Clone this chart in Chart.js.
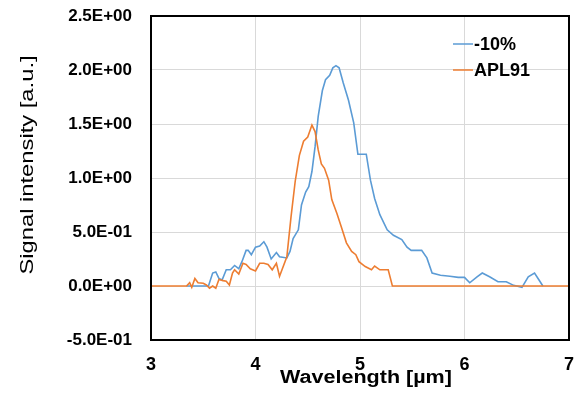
<!DOCTYPE html>
<html>
<head>
<meta charset="utf-8">
<script src="https://cdn.jsdelivr.net/npm/chart.js@4"></script>
<style>
  html, body { margin: 0; padding: 0; background: #ffffff; }
  #wrap { width: 578px; height: 396px; }
</style>
</head>
<body>
<div id="wrap"><canvas id="c" width="578" height="396"></canvas></div>
<script>
const seriesLabels = ["-10%", "APL91"];
const xTitle = "Wavelength [µm]";
const yTitle = "Signal intensity [a.u.]";
const xTickValues = [3, 4, 5, 6, 7];
const yTickValues = [-0.5, 0, 0.5, 1.0, 1.5, 2.0, 2.5];

const blueX = [3.34, 3.55, 3.59, 3.62, 3.65, 3.68, 3.72, 3.76, 3.80, 3.84, 3.87, 3.91, 3.93, 3.96, 4.00, 4.04, 4.08, 4.11, 4.15, 4.20, 4.23, 4.30, 4.33, 4.36, 4.41, 4.44, 4.48, 4.51, 4.54, 4.57, 4.60, 4.64, 4.67, 4.71, 4.74, 4.77, 4.80, 4.84, 4.89, 4.94, 4.98, 5.03, 5.06, 5.10, 5.14, 5.19, 5.26, 5.32, 5.40, 5.45, 5.49, 5.59, 5.64, 5.69, 5.77, 5.86, 5.94, 6.00, 6.05, 6.12, 6.17, 6.24, 6.32, 6.40, 6.47, 6.55, 6.61, 6.67, 6.71, 6.75];
const blueY = [0, 0, 0.12, 0.13, 0.07, 0.055, 0.15, 0.15, 0.19, 0.16, 0.225, 0.33, 0.33, 0.29, 0.36, 0.37, 0.41, 0.36, 0.25, 0.31, 0.27, 0.26, 0.32, 0.44, 0.52, 0.75, 0.87, 0.92, 1.06, 1.29, 1.57, 1.81, 1.91, 1.95, 2.02, 2.04, 2.02, 1.88, 1.72, 1.51, 1.22, 1.22, 1.22, 0.98, 0.81, 0.66, 0.52, 0.47, 0.43, 0.36, 0.33, 0.33, 0.26, 0.12, 0.10, 0.09, 0.08, 0.08, 0.03, 0.085, 0.12, 0.085, 0.04, 0.04, 0.006, -0.012, 0.085, 0.12, 0.06, 0.0];

const orangeX = [3.00, 3.34, 3.37, 3.39, 3.42, 3.45, 3.50, 3.53, 3.56, 3.59, 3.62, 3.65, 3.69, 3.72, 3.75, 3.78, 3.80, 3.84, 3.88, 3.91, 3.95, 4.00, 4.04, 4.08, 4.12, 4.16, 4.20, 4.23, 4.30, 4.34, 4.38, 4.42, 4.46, 4.50, 4.54, 4.57, 4.60, 4.63, 4.66, 4.70, 4.73, 4.78, 4.82, 4.87, 4.92, 4.96, 4.99, 5.05, 5.11, 5.14, 5.19, 5.27, 5.31, 7.00];
const orangeY = [0, 0, 0.03, -0.012, 0.07, 0.03, 0.025, 0.01, -0.02, 0, -0.02, 0.06, 0.05, 0.045, 0.01, 0.12, 0.15, 0.11, 0.21, 0.20, 0.16, 0.14, 0.21, 0.21, 0.20, 0.15, 0.21, 0.09, 0.27, 0.64, 0.97, 1.21, 1.34, 1.38, 1.49, 1.43, 1.26, 1.13, 1.09, 0.98, 0.80, 0.67, 0.55, 0.40, 0.32, 0.29, 0.225, 0.18, 0.15, 0.185, 0.15, 0.15, 0, 0];

const colors = ["#5B9BD5", "#ED7D31"];

function toPts(xs, ys) { return xs.map((x, i) => ({ x: x, y: ys[i] })); }

function fmtE(v) {
  let s = Number(v).toExponential(1);
  let parts = s.split("e");
  let exp = parseInt(parts[1], 10);
  let sign = exp < 0 ? "-" : "+";
  let e = Math.abs(exp).toString().padStart(2, "0");
  return parts[0] + "E" + sign + e;
}

const FONT = "'Liberation Sans', Arial, sans-serif";

const frame = {
  id: "frame",
  afterDatasetsDraw(chart) {
    const a = chart.chartArea, ctx = chart.ctx;
    ctx.save();
    ctx.strokeStyle = "#000000";
    ctx.lineWidth = 2;
    ctx.strokeRect(a.left, a.top, a.right - a.left, a.bottom - a.top);
    ctx.restore();
  },
  afterDraw(chart) {
    const ctx = chart.ctx, a = chart.chartArea;
    ctx.save();
    // legend
    ctx.font = "bold 18px " + FONT;
    ctx.textBaseline = "middle";
    ctx.textAlign = "left";
    const lx = a.right - 116, ly0 = a.top + 28, dy = 26;
    chart.data.datasets.forEach((ds, i) => {
      const y = ly0 + i * dy;
      ctx.strokeStyle = ds.borderColor;
      ctx.lineWidth = 1.5;
      ctx.beginPath();
      ctx.moveTo(lx, y);
      ctx.lineTo(lx + 20, y);
      ctx.stroke();
      ctx.fillStyle = "#000000";
      ctx.fillText(ds.label, lx + 21, y + 1);
    });
    // x title (wide text)
    ctx.fillStyle = "#000000";
    ctx.textAlign = "center";
    ctx.textBaseline = "alphabetic";
    ctx.save();
    ctx.translate(366, 383);
    ctx.scale(1.23, 1);
    ctx.font = "bold 17.5px " + FONT;
    ctx.fillText(xTitle, 0, 0);
    ctx.restore();
    // y title (rotated)
    ctx.save();
    ctx.translate(33, 165);
    ctx.rotate(-Math.PI / 2);
    ctx.scale(1.25, 1);
    ctx.font = "19px " + FONT;
    ctx.fillText(yTitle, 0, 0);
    ctx.restore();
    ctx.restore();
  }
};

new Chart(document.getElementById("c"), {
  type: "line",
  data: {
    datasets: [
      { label: seriesLabels[0], data: toPts(blueX, blueY), borderColor: colors[0], backgroundColor: colors[0], borderWidth: 1.6, pointRadius: 0, tension: 0, order: 1 },
      { label: seriesLabels[1], data: toPts(orangeX, orangeY), borderColor: colors[1], backgroundColor: colors[1], borderWidth: 1.6, pointRadius: 0, tension: 0, order: 0 }
    ]
  },
  options: {
    responsive: false,
    animation: false,
    layout: { padding: { left: 0, right: 9, top: 16, bottom: 0 } },
    plugins: { legend: { display: false }, tooltip: { enabled: false } },
    scales: {
      x: {
        type: "linear",
        min: 3, max: 7,
        afterBuildTicks: s => { s.ticks = xTickValues.map(v => ({ value: v })); },
        afterFit: s => { s.height = 56; s.paddingLeft = 0; s.paddingRight = 0; },
        grid: { color: "#d9d9d9", lineWidth: 1, drawTicks: false },
        border: { display: false },
        ticks: { color: "#000000", padding: 14, font: { family: FONT, size: 18, weight: "bold" }, maxRotation: 0 },
        title: { display: false }
      },
      y: {
        type: "linear",
        min: -0.5, max: 2.5,
        afterBuildTicks: s => { s.ticks = yTickValues.map(v => ({ value: v })); },
        afterFit: s => { s.width = 151; s.paddingTop = 0; s.paddingBottom = 0; },
        grid: { color: "#d9d9d9", lineWidth: 1, drawTicks: false },
        border: { display: false },
        ticks: { color: "#000000", padding: 19, font: { family: FONT, size: 17, weight: "bold" }, callback: v => fmtE(v) },
        title: { display: false }
      }
    }
  },
  plugins: [frame]
});
</script>
</body>
</html>
